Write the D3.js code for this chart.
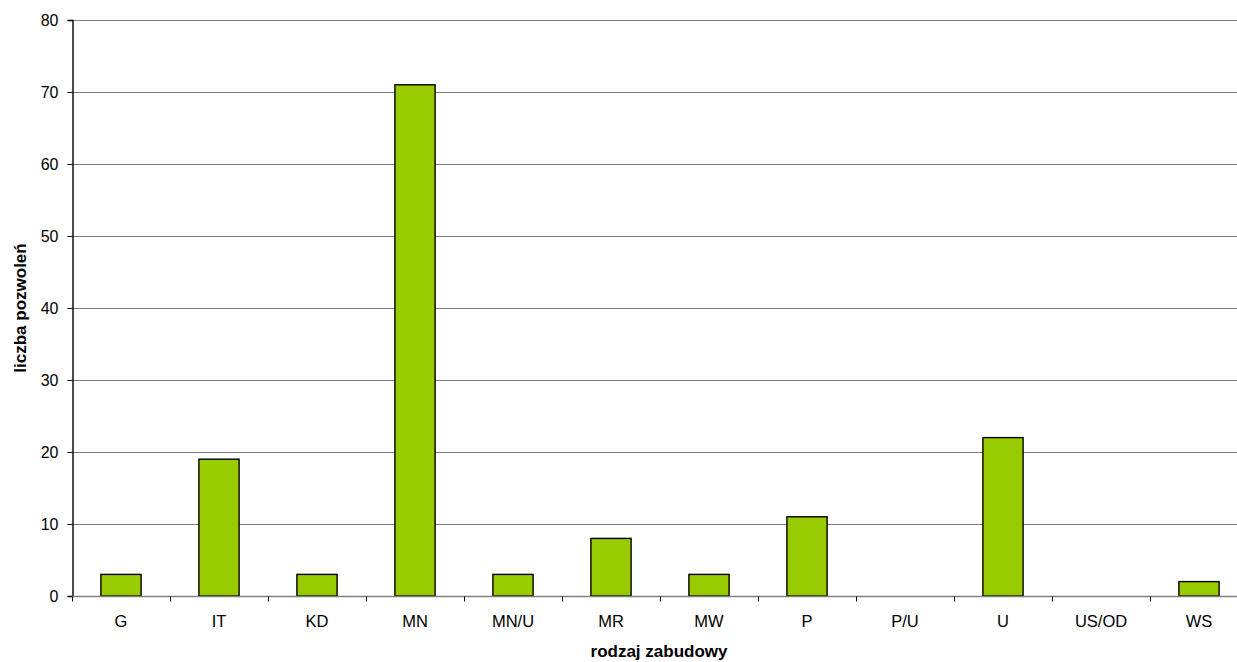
<!DOCTYPE html>
<html><head><meta charset="utf-8">
<script src="https://cdn.jsdelivr.net/npm/d3@7"></script>
<style>body{margin:0;background:#fff}svg{display:block}text{font-family:"Liberation Sans",Arial,sans-serif}</style>
</head><body><svg id="c" width="1237" height="662"></svg>
<script>
const categories = ["G","IT","KD","MN","MN/U","MR","MW","P","P/U","U","US/OD","WS"];
const values = [3,19,3,71,3,8,3,11,0,22,0,2];
const yTicks = [0,10,20,30,40,50,60,70,80];
const xTitle = "rodzaj zabudowy";
const yTitle = "liczba pozwoleń";

const svg = d3.select("#c");
const L = 72, R = 1248, T = 20, B = 596;
const FONT = '"Liberation Sans",Arial,sans-serif';
const x = d3.scaleBand().domain(categories).range([L, R]);
const y = d3.scaleLinear().domain([0, 80]).range([B, T]);
const bw = x.bandwidth() * 0.41;

// gridlines
svg.append("g").selectAll("line").data(yTicks.filter(d => d > 0)).join("line")
  .attr("x1", L).attr("x2", R).attr("y1", d => Math.round(y(d)) + 0.5).attr("y2", d => Math.round(y(d)) + 0.5)
  .attr("stroke", "#808080").attr("stroke-width", 1.2);

// bars
svg.append("g").selectAll("rect").data(categories.map((c, i) => ({c, v: values[i]})).filter(d => d.v > 0)).join("rect")
  .attr("x", d => x(d.c) + (x.bandwidth() - bw) / 2)
  .attr("y", d => y(d.v))
  .attr("width", bw)
  .attr("height", d => y(0) - y(d.v))
  .attr("fill", "#99CC00").attr("stroke", "#000").attr("stroke-width", 1.4);

// y axis
const ya = svg.append("g").attr("transform", `translate(${L + 0.5},0)`)
  .call(d3.axisLeft(y).tickValues(yTicks).tickSize(5).tickPadding(9).tickFormat(d3.format("d")));
ya.select(".domain").attr("stroke", "#000").attr("stroke-width", 1.4);
ya.selectAll(".tick line").attr("stroke", "#000");
ya.selectAll("text").attr("font-size", 16).attr("fill", "#000").style("font-family", FONT);

// x axis
const xa = svg.append("g").attr("transform", `translate(0,${B + 0.5})`)
  .call(d3.axisBottom(x).tickSize(0).tickPadding(19));
xa.select(".domain").remove();
xa.append("line").attr("x1", L).attr("x2", R).attr("stroke", "#808080").attr("stroke-width", 1.4);
xa.selectAll(".tick text").attr("font-size", 16.5).attr("fill", "#000").style("font-family", FONT);
// boundary ticks
const bounds = categories.map(c => x(c)).concat([R]);
xa.append("g").selectAll("line").data(bounds).join("line")
  .attr("x1", d => Math.round(d) + 0.5).attr("x2", d => Math.round(d) + 0.5).attr("y1", 0).attr("y2", 5)
  .attr("stroke", "#000");

// titles
svg.append("text").attr("x", 659).attr("y", 657).attr("text-anchor", "middle")
  .attr("font-size", 17).attr("font-weight", "bold").text(xTitle);
svg.append("text").attr("transform", `translate(26,308) rotate(-90)`).attr("text-anchor", "middle")
  .attr("font-size", 17).attr("font-weight", "bold").text(yTitle);
</script></body></html>
